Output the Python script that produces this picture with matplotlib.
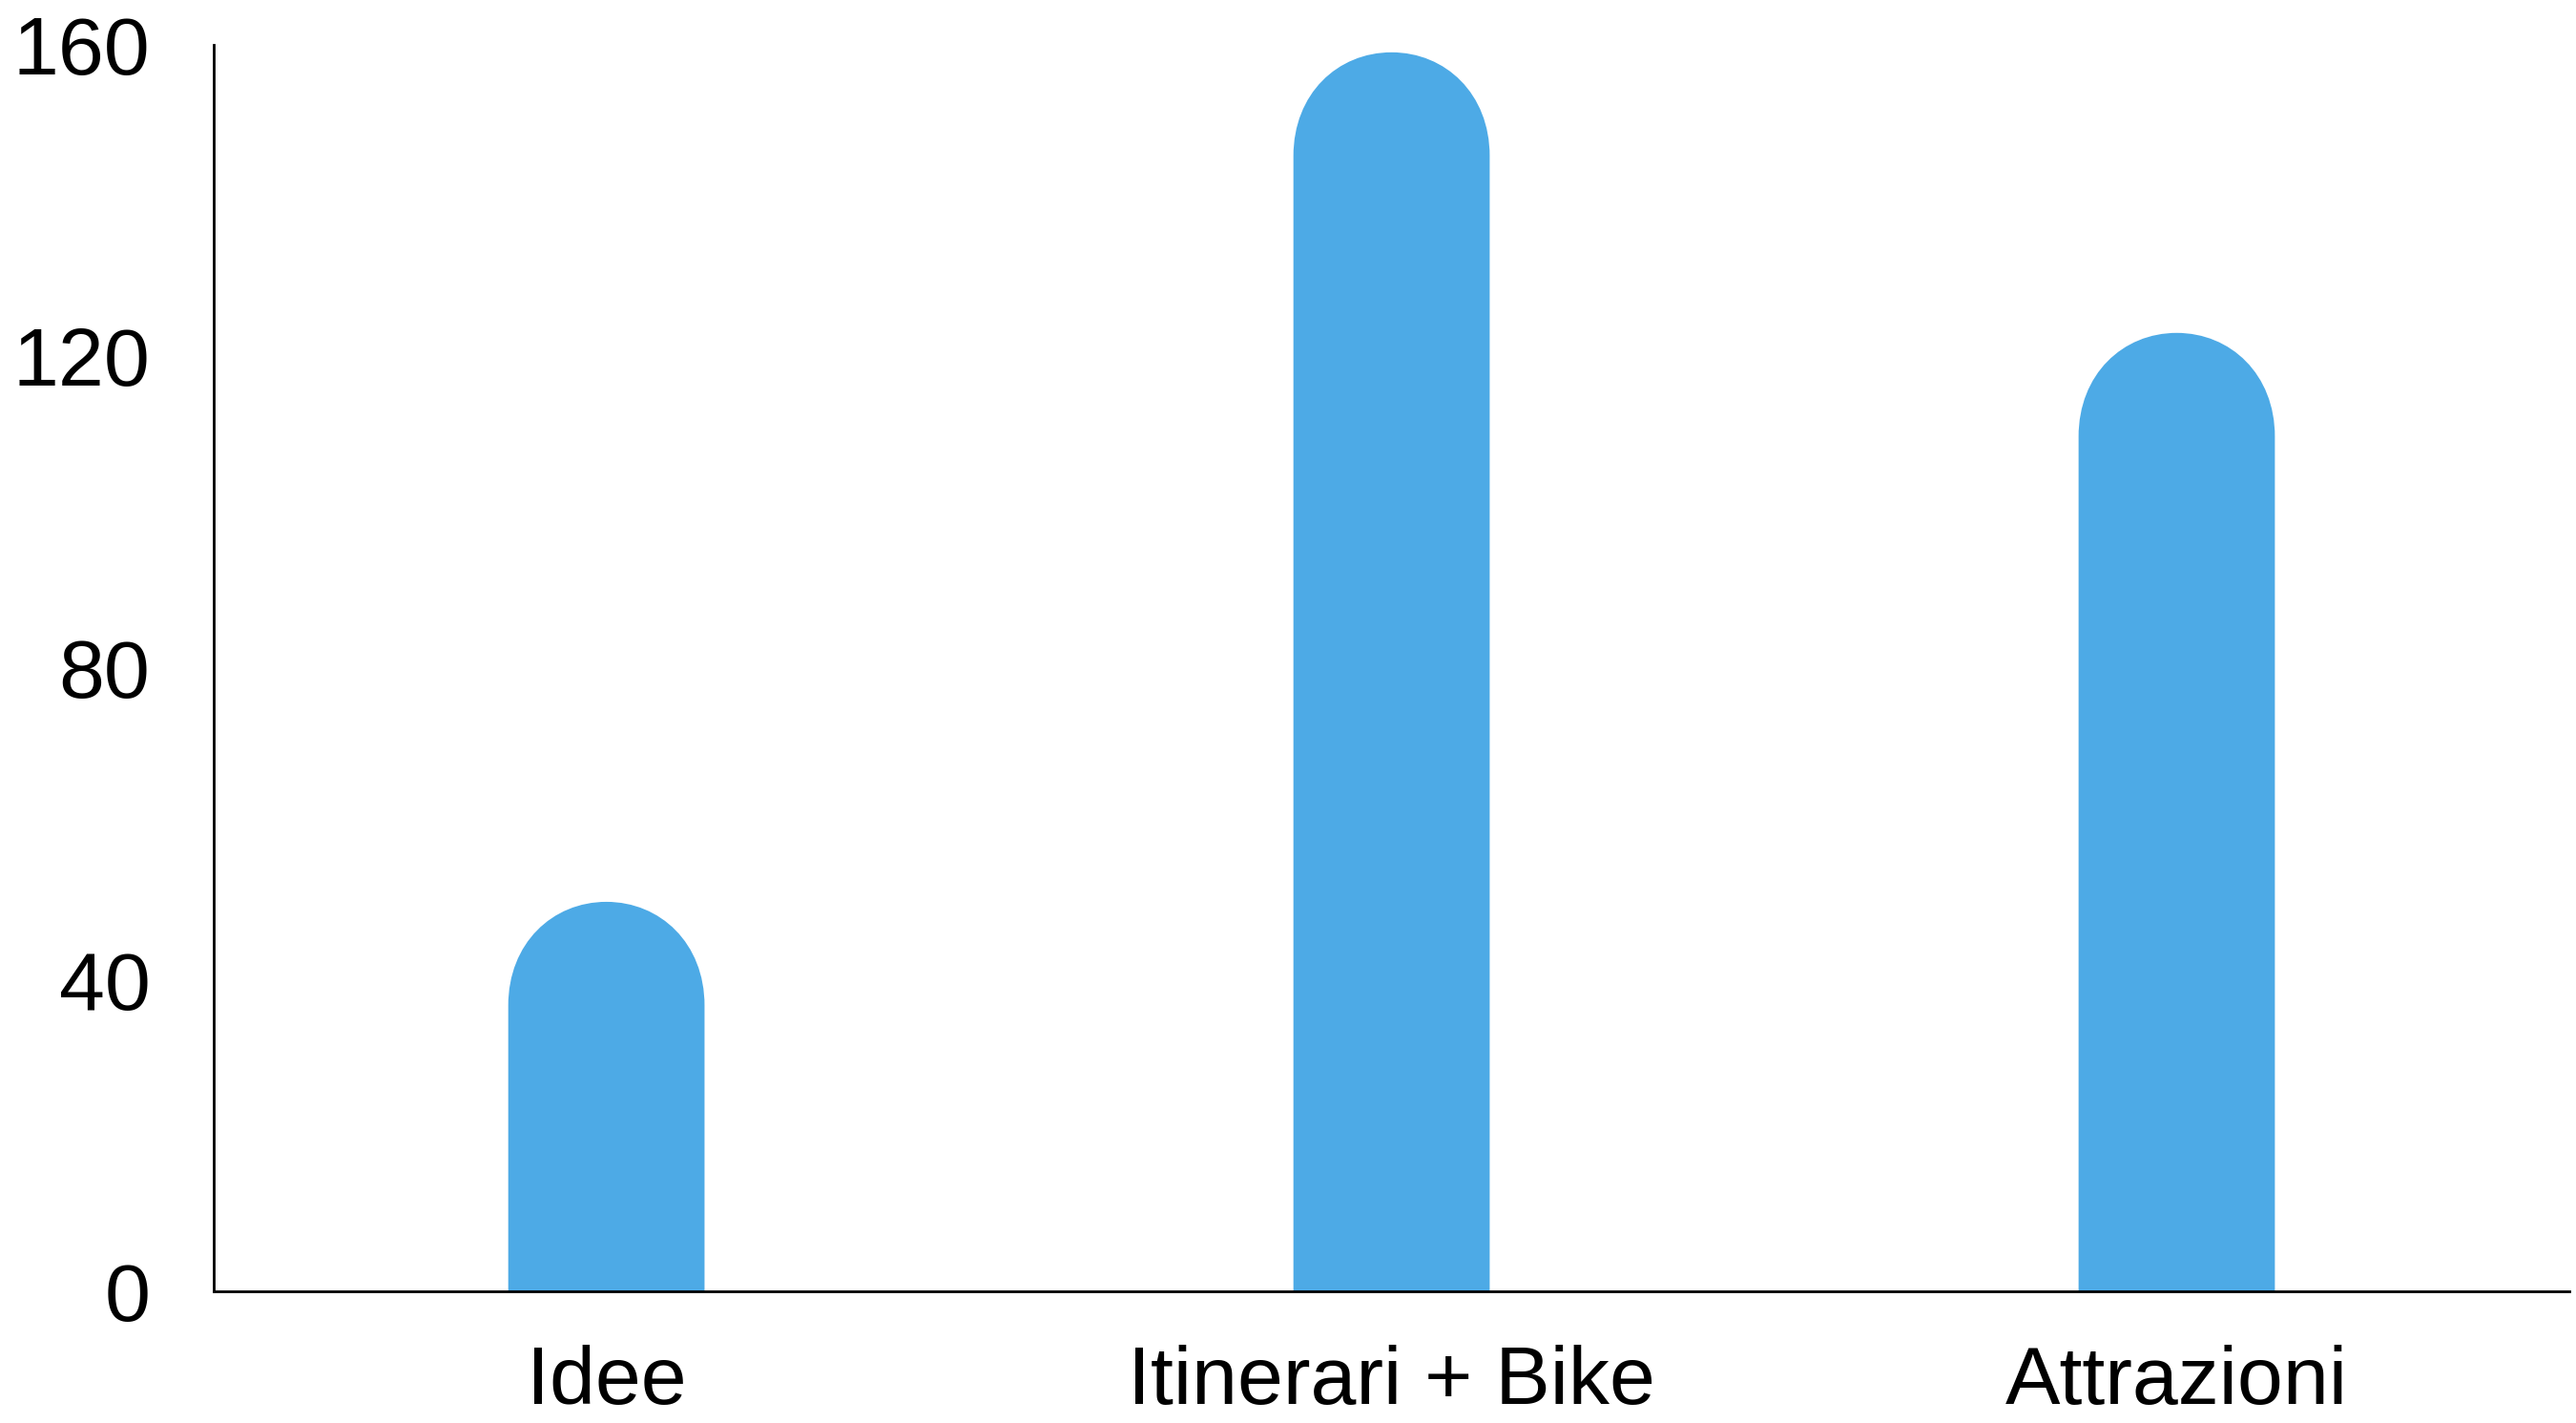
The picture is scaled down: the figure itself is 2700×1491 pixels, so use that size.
import matplotlib

matplotlib.use("Agg")
import matplotlib.pyplot as plt
from matplotlib.path import Path
from matplotlib.patches import PathPatch

categories = ["Idee", "Itinerari + Bike", "Attrazioni"]
values = [50, 159, 123]
yticks = [0, 40, 80, 120, 160]

BAR_COLOR = "#4DAAE6"


def rounded_bar(ax, xc, height, width, cap):
    # bar with a rounded top, drawn in data coords
    x0 = xc - width / 2
    x1 = xc + width / 2
    ys = height - cap
    hw = width / 2
    verts = [
        (x0, 0),
        (x0, ys),
        (x0, ys + cap * 0.6), (xc - hw * 0.55, height), (xc, height),
        (xc + hw * 0.55, height), (x1, ys + cap * 0.6), (x1, ys),
        (x1, 0),
        (x0, 0),
    ]
    codes = [Path.MOVETO, Path.LINETO,
             Path.CURVE4, Path.CURVE4, Path.CURVE4,
             Path.CURVE4, Path.CURVE4, Path.CURVE4,
             Path.LINETO, Path.CLOSEPOLY]
    ax.add_patch(PathPatch(Path(verts, codes), facecolor=BAR_COLOR,
                           edgecolor="none", lw=0))


plt.rcParams["font.family"] = ["Liberation Sans", "DejaVu Sans"]

fig = plt.figure(figsize=(27, 14.91), dpi=100)
ax = fig.add_axes([0.083, 0.0924, 0.9144, 0.8763])

for i, v in enumerate(values):
    rounded_bar(ax, i, v, 0.25, 13.3)

ax.set_xlim(-0.5, len(categories) - 0.5)
ax.set_ylim(0, 160)
ax.set_xticks(range(len(categories)))
ax.set_xticklabels(categories)
ax.set_yticks(yticks)
ax.set_yticklabels([str(t) for t in yticks])
ax.tick_params(axis="both", length=0, labelsize=62)
ax.tick_params(axis="y", pad=48)
ax.tick_params(axis="x", pad=40)

for s in ["top", "right"]:
    ax.spines[s].set_visible(False)
for s in ["left", "bottom"]:
    ax.spines[s].set_linewidth(2.0)
    ax.spines[s].set_color("black")

fig.savefig("out.png", dpi=100)
